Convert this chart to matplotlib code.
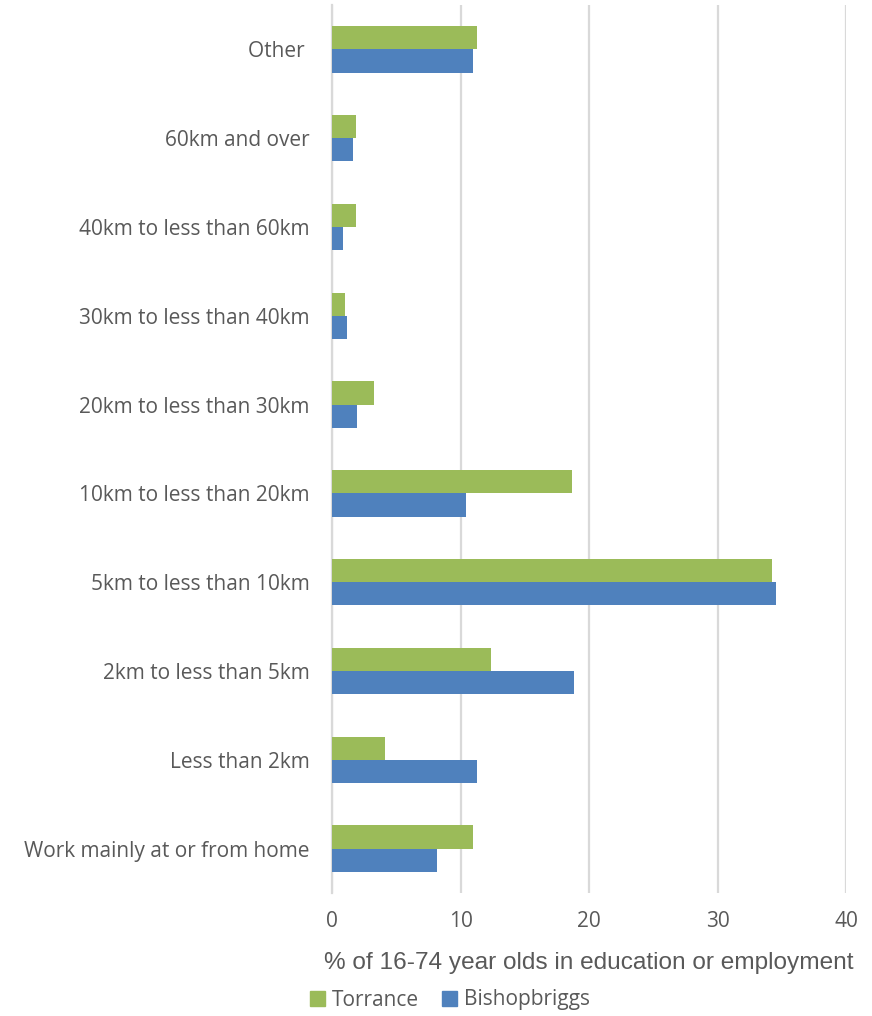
import matplotlib
matplotlib.use("Agg")
import matplotlib.pyplot as plt
import numpy as np
from matplotlib.patches import Patch

# categories bottom -> top
categories = ["Work mainly at or from home", "Less than 2km", "2km to less than 5km",
              "5km to less than 10km", "10km to less than 20km", "20km to less than 30km",
              "30km to less than 40km", "40km to less than 60km", "60km and over", "Other "]
torrance = [11.0, 4.15, 12.4, 34.25, 18.65, 3.3, 1.05, 1.85, 1.9, 11.25]
bishopbriggs = [8.2, 11.3, 18.8, 34.55, 10.4, 1.95, 1.2, 0.85, 1.65, 10.95]
xticks = [0, 10, 20, 30, 40]

GREEN = "#9BBB59"
BLUE = "#4F81BD"
GREY = "#595959"
LABEL_FONT = ["Open Sans", "DejaVu Sans"]

fig = plt.figure(figsize=(8.72, 10.16), dpi=100)
ax = fig.add_axes([332 / 872, 123 / 1016, 514 / 872, 888 / 1016])

y = np.arange(len(categories))
h = 0.262
ax.barh(y + h / 2, torrance, height=h, color=GREEN, label="Torrance", zorder=3)
ax.barh(y - h / 2, bishopbriggs, height=h, color=BLUE, label="Bishopbriggs", zorder=3)

ax.set_xlim(0, 40)
ax.set_ylim(-0.5, len(categories) - 0.5)
ax.set_xticks(xticks)
ax.set_yticks(y)
ax.set_yticklabels(categories)

ax.grid(axis="x", color="#d9d9d9", linewidth=1.6, zorder=0)
for s in ["top", "right", "bottom"]:
    ax.spines[s].set_visible(False)
ax.spines["left"].set_color("#d9d9d9")
ax.spines["left"].set_linewidth(1.6)
ax.tick_params(axis="both", length=0, colors=GREY, labelsize=15)
ax.tick_params(axis="x", pad=13)
ax.tick_params(axis="y", pad=16)
for t in ax.get_xticklabels() + ax.get_yticklabels():
    t.set_family(LABEL_FONT)

ax.set_xlabel("% of 16-74 year olds in education or employment", fontsize=17.6,
              color=GREY, family=["Liberation Sans", "DejaVu Sans"])
ax.xaxis.label.set_va("center")
ax.xaxis.set_label_coords(0.5, -0.079)

handles = [Patch(color=GREEN, label="Torrance"), Patch(color=BLUE, label="Bishopbriggs")]
fig.legend(handles=handles, loc="center", bbox_to_anchor=(450 / 872, 1 - 1000 / 1016),
           ncol=2, frameon=False, handlelength=0.7, handleheight=0.7, handletextpad=0.35,
           columnspacing=1.1, prop={"family": LABEL_FONT, "size": 15}, labelcolor=GREY)

fig.savefig("out.png", dpi=100)
